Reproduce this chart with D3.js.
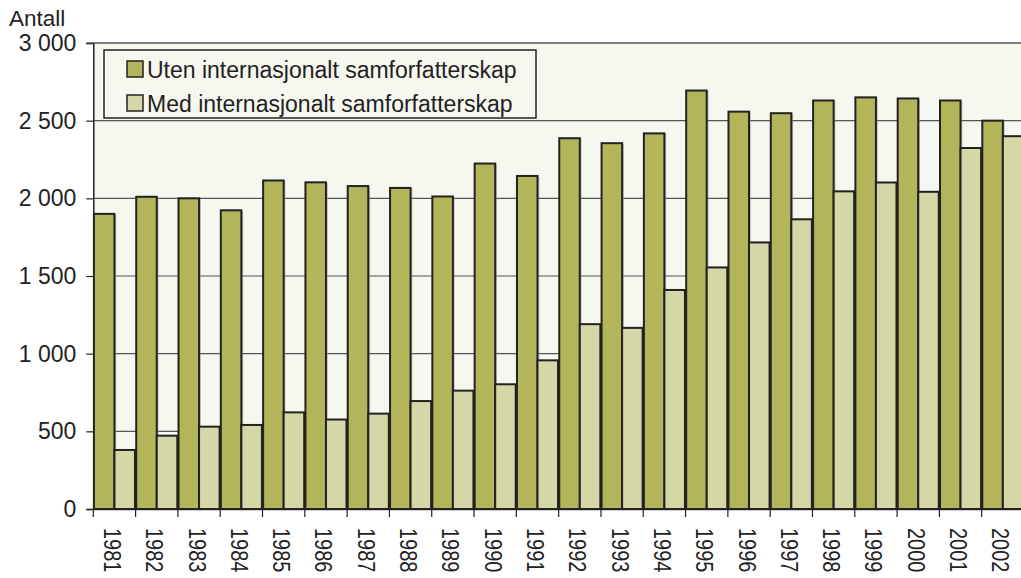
<!DOCTYPE html>
<html><head><meta charset="utf-8">
<script src="https://cdn.jsdelivr.net/npm/d3@7"></script>
<style>html,body{margin:0;padding:0;background:#fff;overflow:hidden}svg{display:block}</style>
</head><body>
<svg id="c" width="1021" height="578"></svg>
<script>
const years = ["1981","1982","1983","1984","1985","1986","1987","1988","1989","1990","1991","1992","1993","1994","1995","1996","1997","1998","1999","2000","2001","2002"];
const utenValues = [1900,2010,2000,1923,2115,2103,2079,2067,2012,2224,2144,2387,2355,2418,2694,2558,2548,2630,2650,2643,2630,2500];
const medValues  = [380,472,530,541,622,576,614,695,762,803,957,1190,1166,1410,1555,1716,1865,2045,2102,2042,2324,2400];
const seriesNames = ["Uten internasjonalt samforfatterskap","Med internasjonalt samforfatterskap"];
const yTicks = [0,500,1000,1500,2000,2500,3000];
const colors = ["#b3b55a","#d5d8a6"];

(function(){
const svg = d3.select("#c");
const pL = 93.3, pR = 1024, pT = 43, pB = 509;
const font = "'Liberation Sans', Arial, sans-serif";

const x = d3.scaleBand().domain(years).range([pL, pR]).paddingInner(0).paddingOuter(0);
const xs = d3.scaleBand().domain([0,1]).range([0, x.bandwidth()]).paddingInner(0).paddingOuter(0.03);
const y = d3.scaleLinear().domain([0,3000]).range([pB, pT]);

svg.append("rect").attr("x", pL).attr("y", pT).attr("width", pR-pL).attr("height", pB-pT).attr("fill", "#f6f7ef");

// gridlines
svg.append("g").selectAll("line").data(yTicks.filter(d=>d>0)).join("line")
  .attr("x1", pL).attr("x2", pR)
  .attr("y1", d=>y(d)).attr("y2", d=>y(d))
  .attr("stroke", "#555").attr("stroke-width", 1.2);

// y axis
const yAxis = svg.append("g").attr("transform", `translate(${pL},0)`)
  .call(d3.axisLeft(y).tickValues(yTicks).tickSize(7).tickPadding(10)
    .tickFormat(d => d3.format(",")(d).replace(/,/g, " ")));
yAxis.select(".domain").attr("stroke", "#222").attr("stroke-width", 1.5);
yAxis.selectAll(".tick line").attr("stroke", "#222").attr("stroke-width", 1.2);
yAxis.selectAll("text").attr("font-family", font).attr("font-size", 23).attr("fill", "#222");

// bars
const data = years.map((yr,i)=>({yr, vals:[utenValues[i], medValues[i]]}));
const g = svg.append("g");
const groups = g.selectAll("g").data(data).join("g").attr("transform", d=>`translate(${x(d.yr)},0)`);
groups.selectAll("rect.sh").data(d=>d.vals.map((v,k)=>({v,k}))).join("rect").attr("class","sh")
  .attr("x", d=>xs(d.k)+1.2).attr("y", d=>y(d.v)+1.2)
  .attr("width", xs.bandwidth()).attr("height", d=>pB-y(d.v))
  .attr("fill", "none").attr("stroke", "#999").attr("stroke-width", 1.2).attr("opacity", 0.6);
groups.selectAll("rect.b").data(d=>d.vals.map((v,k)=>({v,k}))).join("rect").attr("class","b")
  .attr("x", d=>xs(d.k)).attr("y", d=>y(d.v))
  .attr("width", xs.bandwidth()).attr("height", d=>pB-y(d.v))
  .attr("fill", d=>colors[d.k]).attr("stroke", "#222").attr("stroke-width", 2);

// x axis
svg.append("line").attr("x1", pL).attr("x2", pR).attr("y1", pB).attr("y2", pB).attr("stroke", "#222").attr("stroke-width", 2);
const bounds = years.map(d=>x(d));
svg.append("g").selectAll("line").data(bounds).join("line")
  .attr("x1", d=>d).attr("x2", d=>d).attr("y1", pB).attr("y2", pB+8)
  .attr("stroke", "#222").attr("stroke-width", 1.2);
svg.append("g").selectAll("text").data(years).join("text")
  .attr("transform", d=>`translate(${x(d)+x.bandwidth()/2-10.5},${528}) rotate(90) scale(0.83,1)`)
  .attr("font-family", font).attr("font-size", 24).attr("fill", "#222")
  .attr("text-anchor", "start")
  .text(d=>d);

// top border
svg.append("line").attr("x1", pL-7).attr("x2", pR).attr("y1", pT).attr("y2", pT).attr("stroke", "#555").attr("stroke-width", 1.2);

// axis title
svg.append("text").attr("x", 9).attr("y", 26).attr("font-family", font).attr("font-size", 22.5).attr("fill", "#222").text("Antall");

// legend
const lg = svg.append("g");
lg.append("rect").attr("x", 104).attr("y", 50).attr("width", 432).attr("height", 68)
  .attr("fill", "#f6f7ef").attr("stroke", "#222").attr("stroke-width", 1.5);
seriesNames.forEach((n,i)=>{
  const yy = 61 + i*34;
  lg.append("rect").attr("x", 127).attr("y", yy).attr("width", 16).attr("height", 16)
    .attr("fill", colors[i]).attr("stroke", "#222").attr("stroke-width", 1.5);
  lg.append("text").attr("x", 147).attr("y", yy+16.5).attr("font-family", font).attr("font-size", 23).attr("fill", "#222").text(n);
});
})();
</script>
</body></html>
